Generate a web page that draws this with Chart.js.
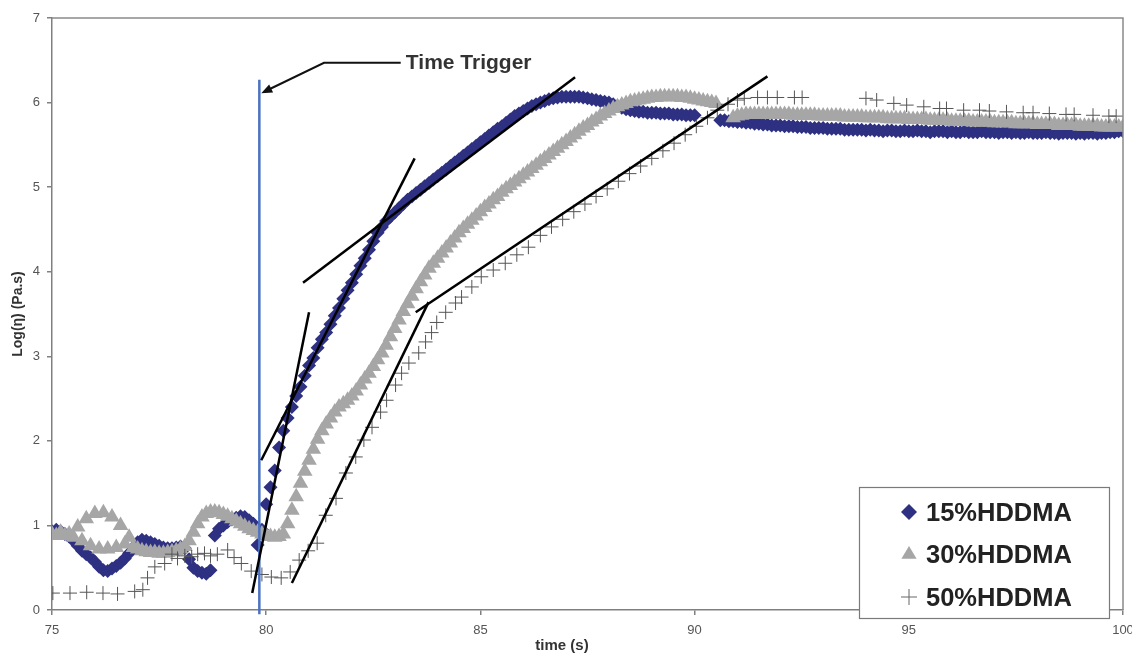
<!DOCTYPE html>
<html><head><meta charset="utf-8">
<script src="https://cdn.jsdelivr.net/npm/chart.js@4"></script>
<style>html,body{margin:0;padding:0;background:#fff}#wrap{width:1132px;height:655px}</style>
</head><body><div id="wrap"><canvas id="c" width="1132" height="655"></canvas></div>
<script>
const seriesLabels = ['15%HDDMA', '30%HDDMA', '50%HDDMA'];
const xTicks = [75, 80, 85, 90, 95, 100];
const yTicks = [0, 1, 2, 3, 4, 5, 6, 7];
const xTitle = 'time (s)';
const yTitle = 'Log(\u03b7) (Pa.s)';
const annotationText = 'Time Trigger';

const times = [
75.0,75.1,75.2,75.3,75.4,75.5,75.6,75.7,75.8,75.9,
76.0,76.1,76.2,76.3,76.4,76.5,76.6,76.7,76.8,76.9,
77.0,77.1,77.2,77.3,77.4,77.5,77.6,77.7,77.8,77.9,
78.0,78.1,78.2,78.3,78.4,78.5,78.6,78.7,78.8,78.9,
79.0,79.1,79.2,79.3,79.4,79.5,79.6,79.7,79.8,79.9,
80.0,80.1,80.2,80.3,80.4,80.5,80.6,80.7,80.8,80.9,
81.0,81.1,81.2,81.3,81.4,81.5,81.6,81.7,81.8,81.9,
82.0,82.1,82.2,82.3,82.4,82.5,82.6,82.7,82.8,82.9,
83.0,83.1,83.2,83.3,83.4,83.5,83.6,83.7,83.8,83.9,
84.0,84.1,84.2,84.3,84.4,84.5,84.6,84.7,84.8,84.9,
85.0,85.1,85.2,85.3,85.4,85.5,85.6,85.7,85.8,85.9,
86.0,86.1,86.2,86.3,86.4,86.5,86.6,86.7,86.8,86.9,
87.0,87.1,87.2,87.3,87.4,87.5,87.6,87.7,87.8,87.9,
88.0,88.1,88.2,88.3,88.4,88.5,88.6,88.7,88.8,88.9,
89.0,89.1,89.2,89.3,89.4,89.5,89.6,89.7,89.8,89.9,
90.0,90.1,90.2,90.3,90.4,90.5,90.6,90.7,90.8,90.9,
91.0,91.1,91.2,91.3,91.4,91.5,91.6,91.7,91.8,91.9,
92.0,92.1,92.2,92.3,92.4,92.5,92.6,92.7,92.8,92.9,
93.0,93.1,93.2,93.3,93.4,93.5,93.6,93.7,93.8,93.9,
94.0,94.1,94.2,94.3,94.4,94.5,94.6,94.7,94.8,94.9,
95.0,95.1,95.2,95.3,95.4,95.5,95.6,95.7,95.8,95.9,
96.0,96.1,96.2,96.3,96.4,96.5,96.6,96.7,96.8,96.9,
97.0,97.1,97.2,97.3,97.4,97.5,97.6,97.7,97.8,97.9,
98.0,98.1,98.2,98.3,98.4,98.5,98.6,98.7,98.8,98.9,
99.0,99.1,99.2,99.3,99.4,99.5,99.6,99.7,99.8,99.9,
100.0];

const hddma15 = [
0.93,0.95,0.93,0.90,0.87,0.82,0.76,0.70,0.66,0.62,
0.57,0.51,0.47,0.46,0.49,0.52,0.56,0.61,0.67,0.74,
0.80,0.83,0.82,0.80,0.78,0.76,0.74,0.73,0.73,0.74,
0.75,0.73,0.60,0.50,0.46,0.44,0.43,0.47,0.88,0.96,
1.00,1.04,1.07,1.09,1.11,1.10,1.06,1.02,0.77,0.95,
1.25,1.45,1.65,1.92,2.12,2.27,2.40,2.53,2.64,2.77,
2.89,2.98,3.10,3.20,3.28,3.38,3.48,3.57,3.68,3.78,
3.87,3.97,4.07,4.16,4.26,4.36,4.46,4.53,4.60,4.65,
4.70,4.75,4.80,4.85,4.89,4.93,4.97,5.01,5.05,5.09,
5.13,5.17,5.21,5.25,5.29,5.33,5.37,5.41,5.45,5.49,
5.53,5.57,5.61,5.65,5.69,5.72,5.76,5.80,5.84,5.87,
5.90,5.93,5.96,5.98,6.00,6.02,6.04,6.05,6.06,6.07,
6.07,6.07,6.07,6.07,6.06,6.05,6.04,6.03,6.02,6.01,
6.00,5.98,5.96,5.94,5.92,5.91,5.90,5.89,5.89,5.88,
5.88,5.88,5.87,5.87,5.87,5.86,5.86,5.86,5.85,5.85,
5.85,null,null,null,null,null,5.79,5.79,5.78,5.78,
5.77,5.77,5.76,5.76,5.75,5.75,5.74,5.74,5.73,5.73,
5.73,5.72,5.72,5.72,5.71,5.71,5.71,5.70,5.70,5.70,
5.70,5.69,5.69,5.69,5.69,5.68,5.68,5.68,5.68,5.68,
5.67,5.68,5.67,5.67,5.66,5.67,5.67,5.66,5.66,5.67,
5.66,5.66,5.67,5.66,5.66,5.65,5.66,5.66,5.66,5.65,
5.66,5.65,5.65,5.66,5.65,5.65,5.65,5.66,5.65,5.65,
5.65,5.64,5.65,5.65,5.64,5.65,5.64,5.64,5.65,5.64,
5.64,5.64,5.65,5.64,5.64,5.63,5.64,5.64,5.64,5.63,
5.64,5.63,5.64,5.64,5.63,5.64,5.64,5.65,5.65,5.66,
5.66];

const hddma30 = [
0.90,0.88,0.92,0.88,0.90,0.86,0.98,0.82,1.08,0.76,
1.14,0.72,1.15,0.72,1.10,0.74,1.00,0.78,0.86,0.74,
0.72,0.70,0.69,0.68,0.68,0.67,0.67,0.68,0.69,0.70,
0.72,0.75,0.82,0.92,1.02,1.10,1.14,1.16,1.16,1.15,
1.13,1.11,1.08,1.05,1.02,0.99,0.96,0.94,0.92,0.90,
0.88,0.87,0.86,0.87,0.90,1.02,1.18,1.34,1.50,1.64,
1.77,1.90,2.02,2.12,2.20,2.27,2.34,2.40,2.44,2.48,
2.53,2.59,2.66,2.73,2.80,2.88,2.96,3.04,3.13,3.23,
3.33,3.43,3.53,3.62,3.71,3.80,3.88,3.96,4.04,4.10,
4.16,4.22,4.28,4.34,4.40,4.46,4.51,4.56,4.61,4.66,
4.71,4.76,4.80,4.85,4.89,4.94,4.98,5.02,5.06,5.10,
5.14,5.18,5.22,5.26,5.30,5.34,5.38,5.42,5.46,5.50,
5.54,5.58,5.62,5.66,5.70,5.73,5.77,5.80,5.84,5.87,
5.90,5.93,5.95,5.97,5.99,6.01,6.02,6.03,6.04,6.05,
6.06,6.06,6.07,6.07,6.07,6.07,6.07,6.06,6.06,6.05,
6.04,6.03,6.02,6.01,6.00,5.99,null,null,null,5.82,
5.84,5.85,5.86,5.86,5.86,5.86,5.86,5.86,5.86,5.86,
5.86,5.86,5.86,5.85,5.85,5.85,5.85,5.85,5.85,5.84,
5.84,5.84,5.84,5.84,5.84,5.83,5.83,5.83,5.83,5.83,
5.82,5.82,5.82,5.82,5.82,5.81,5.81,5.81,5.81,5.81,
5.80,5.80,5.80,5.80,5.80,5.79,5.79,5.79,5.79,5.79,
5.78,5.78,5.78,5.78,5.78,5.77,5.77,5.77,5.77,5.77,
5.76,5.76,5.76,5.76,5.76,5.75,5.75,5.75,5.75,5.75,
5.74,5.74,5.74,5.74,5.74,5.73,5.73,5.73,5.73,5.73,
5.72,5.72,5.72,5.72,5.72,5.71,5.71,5.71,5.71,5.71,
5.71];

const times50 = [
75.02,75.42,75.81,76.19,76.53,76.93,77.12,77.23,77.40,77.63,
77.80,77.93,78.10,78.26,78.40,78.56,78.70,78.86,79.10,79.25,
79.42,79.65,79.90,80.12,80.35,80.56,80.77,80.98,81.19,81.39,
81.63,81.86,82.09,82.28,82.47,82.67,82.81,83.02,83.16,83.33,
83.56,83.72,83.86,83.98,84.19,84.42,84.56,84.80,85.02,85.30,
85.58,85.85,86.12,86.40,86.66,86.92,87.18,87.44,87.70,87.96,
88.22,88.48,88.74,89.00,89.26,89.52,89.78,90.04,90.30,90.53,
90.78,91.00,91.16,91.47,91.70,91.93,92.33,92.51,
94.00,94.25,94.65,94.95,95.35,95.72,95.88,96.28,96.65,96.88,
97.28,97.67,97.90,98.28,98.67,98.86,99.30,99.67,99.84];
const hddma50 = [
0.20,0.20,0.21,0.20,0.19,0.22,0.24,0.38,0.51,0.55,
0.66,0.61,0.64,0.63,0.66,0.67,0.64,0.66,0.71,0.62,
0.55,0.46,0.42,0.39,0.38,0.45,0.59,0.70,0.79,1.12,
1.32,1.62,1.81,2.01,2.16,2.34,2.48,2.66,2.80,2.92,
3.04,3.17,3.28,3.40,3.52,3.63,3.70,3.82,3.94,4.02,
4.10,4.20,4.29,4.43,4.53,4.62,4.71,4.80,4.89,4.98,
5.07,5.16,5.25,5.34,5.43,5.52,5.62,5.72,5.82,5.91,
5.98,6.03,6.05,6.06,6.06,6.06,6.06,6.06,
6.05,6.03,5.99,5.97,5.95,5.93,5.93,5.91,5.91,5.90,
5.89,5.88,5.88,5.87,5.86,5.86,5.85,5.84,5.84];

const triggerTimes = [79.84, 79.84];
const triggerLogs = [-0.05, 6.27];
const tangentTimes = [[79.674, 81.0], [79.884, 83.465], [80.86, 87.21], [80.60, 83.79], [83.49, 91.70]];
const tangentLogs = [[0.20, 3.52], [1.77, 5.34], [3.87, 6.30], [0.32, 3.64], [3.52, 6.31]];

const pts = (xs, ys) => xs.map((x, i) => ys[i] == null ? null : {x: x, y: ys[i]}).filter(p => p);

const COL15 = '#2e3082', COL30 = '#a6a6a6', COL50 = '#555555';
const FONT = "'Liberation Sans', Arial, sans-serif";

const datasets = [
  {label: seriesLabels[0], data: pts(times, hddma15), pointStyle: 'rectRot', pointRadius: 7,
   backgroundColor: COL15, borderColor: COL15, borderWidth: 0, order: 6},
  {label: seriesLabels[1], data: pts(times, hddma30), pointStyle: 'triangle', pointRadius: 9,
   backgroundColor: COL30, borderColor: COL30, borderWidth: 0, order: 5},
  {label: seriesLabels[2], data: pts(times50, hddma50), pointStyle: 'cross', pointRadius: 7,
   backgroundColor: COL50, borderColor: COL50, borderWidth: 1, order: 4},
  {label: 'trigger', data: pts(triggerTimes, triggerLogs), showLine: true, pointRadius: 0,
   borderColor: '#4a72c2', borderWidth: 2.5, order: 3, clip: false}
];
tangentTimes.forEach((tx, i) => {
  datasets.push({label: 'tangent' + i, data: pts(tx, tangentLogs[i]), showLine: true, pointRadius: 0,
    borderColor: '#000', borderWidth: 2.5, order: 2});
});

const annotation = {tip: [79.884, 6.11], elbow: [81.35, 6.47], end: [83.14, 6.47], text: [83.26, 6.40]};

function marker(ctx, style, x, y, r, color) {
  ctx.save();
  ctx.fillStyle = color; ctx.strokeStyle = color;
  ctx.beginPath();
  if (style === 'rectRot') {
    ctx.moveTo(x, y - r); ctx.lineTo(x + r, y); ctx.lineTo(x, y + r); ctx.lineTo(x - r, y); ctx.closePath(); ctx.fill();
  } else if (style === 'triangle') {
    ctx.moveTo(x, y - r); ctx.lineTo(x + r * 0.866 * 1.1, y + r * 0.5 * 1.2); ctx.lineTo(x - r * 0.866 * 1.1, y + r * 0.5 * 1.2); ctx.closePath(); ctx.fill();
  } else {
    ctx.lineWidth = 1;
    ctx.moveTo(x - r, y); ctx.lineTo(x + r, y); ctx.moveTo(x, y - r); ctx.lineTo(x, y + r); ctx.stroke();
  }
  ctx.restore();
}

const decor = {
  id: 'decor',
  afterDraw(chart) {
    const ctx = chart.ctx, a = chart.chartArea, xs = chart.scales.x, ys = chart.scales.y;
    ctx.save();
    ctx.strokeStyle = '#8a8a8a'; ctx.lineWidth = 1.5;
    ctx.beginPath(); ctx.moveTo(a.left, a.top); ctx.lineTo(a.right, a.top); ctx.lineTo(a.right, a.bottom); ctx.stroke();
    const P = p => [xs.getPixelForValue(p[0]), ys.getPixelForValue(p[1])];
    const tip = P(annotation.tip), el = P(annotation.elbow), en = P(annotation.end), tx = P(annotation.text);
    ctx.strokeStyle = '#111'; ctx.lineWidth = 2;
    ctx.beginPath(); ctx.moveTo(en[0], en[1]); ctx.lineTo(el[0], el[1]); ctx.lineTo(tip[0] + 6, tip[1] - 3); ctx.stroke();
    const ang = Math.atan2(tip[1] - el[1], tip[0] - el[0]);
    ctx.fillStyle = '#111'; ctx.beginPath();
    ctx.moveTo(tip[0], tip[1]);
    ctx.lineTo(tip[0] - 11 * Math.cos(ang) + 4.5 * Math.sin(ang), tip[1] - 11 * Math.sin(ang) - 4.5 * Math.cos(ang));
    ctx.lineTo(tip[0] - 11 * Math.cos(ang) - 4.5 * Math.sin(ang), tip[1] - 11 * Math.sin(ang) + 4.5 * Math.cos(ang));
    ctx.closePath(); ctx.fill();
    ctx.fillStyle = '#333'; ctx.font = 'bold 21px ' + FONT; ctx.textAlign = 'left'; ctx.textBaseline = 'alphabetic';
    ctx.fillText(annotationText, tx[0], tx[1]);
    ctx.fillStyle = '#333'; ctx.font = 'bold 15px ' + FONT; ctx.textAlign = 'center'; ctx.textBaseline = 'middle';
    ctx.fillText(xTitle, 562, 646);
    ctx.save(); ctx.translate(18, (a.top + a.bottom) / 2); ctx.rotate(-Math.PI / 2);
    ctx.font = 'bold 14px ' + FONT; ctx.fillText(yTitle, 0, 0); ctx.restore();
    const bx = a.right - 264, by = 487, bw = 250, bh = 131;
    ctx.fillStyle = '#fff'; ctx.fillRect(bx, by, bw, bh);
    ctx.strokeStyle = '#7a7a7a'; ctx.lineWidth = 1.2; ctx.strokeRect(bx + 0.5, by + 0.5, bw, bh);
    const styles = ['rectRot', 'triangle', 'cross'], cols = [COL15, COL30, '#666'], radii = [8, 8, 8];
    ctx.font = 'bold 25.5px ' + FONT; ctx.textAlign = 'left'; ctx.textBaseline = 'alphabetic';
    [521, 563, 606].forEach((b, i) => {
      marker(ctx, styles[i], bx + 50, b - 9, radii[i], cols[i]);
      ctx.fillStyle = '#222';
      ctx.fillText(seriesLabels[i], bx + 67, b);
    });
    ctx.restore();
  }
};

const axisCommon = {
  grid: {display: true, drawOnChartArea: false, drawTicks: true, tickLength: 5, color: '#808080', lineWidth: 1.5},
  border: {display: true, color: '#808080', width: 1.5},
};

new Chart(document.getElementById('c'), {
  type: 'scatter',
  data: {datasets: datasets},
  options: {
    responsive: false, animation: false, devicePixelRatio: 1, events: [],
    layout: {padding: {left: 0, top: 18, right: 5, bottom: 0}},
    plugins: {legend: {display: false}, tooltip: {enabled: false}},
    scales: {
      x: Object.assign({}, axisCommon, {
        type: 'linear', min: 75, max: 100,
        afterBuildTicks: s => { s.ticks = xTicks.map(v => ({value: v})); },
        ticks: {font: {family: FONT, size: 13}, color: '#555', padding: 8, maxRotation: 0, autoSkip: false},
        afterFit: s => { s.height = 45; s.paddingLeft = 0; s.paddingRight = 0; }
      }),
      y: Object.assign({}, axisCommon, {
        type: 'linear', min: 0, max: 7,
        afterBuildTicks: s => { s.ticks = yTicks.map(v => ({value: v})); },
        ticks: {font: {family: FONT, size: 13}, color: '#555', padding: 7},
        afterFit: s => { s.width = 52; s.paddingTop = 0; s.paddingBottom = 0; }
      })
    }
  },
  plugins: [decor]
});
</script></body></html>
